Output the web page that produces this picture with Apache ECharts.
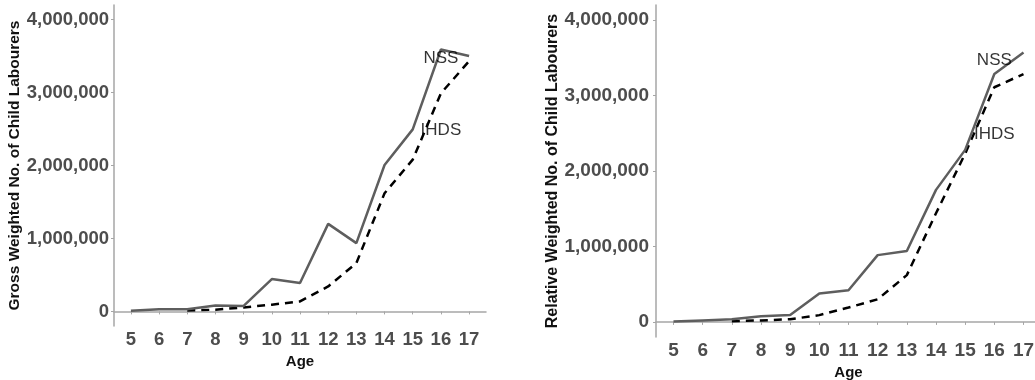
<!DOCTYPE html>
<html>
<head>
<meta charset="utf-8">
<script src="https://cdn.jsdelivr.net/npm/echarts@6/dist/echarts.min.js"></script>
<style>
  html, body { margin: 0; padding: 0; background: #fff; }
  #chart { width: 1035px; height: 380px; }
</style>
</head>
<body>
<div id="chart"></div>
<script>
// Ages on the x axis
const ages = [5, 6, 7, 8, 9, 10, 11, 12, 13, 14, 15, 16, 17];
const idhsAges = [7, 8, 9, 10, 11, 12, 13, 14, 15, 16, 17];

// Gross weighted number of child labourers
const grossNSS = [8000, 28000, 30000, 80000, 75000, 443000, 389000, 1200000, 936000, 2007000, 2495000, 3590000, 3500000];
const grossIHDS = [14000, 23000, 55000, 92000, 137000, 342000, 662000, 1620000, 2080000, 2990000, 3430000];

// Relative weighted number of child labourers
const relNSS = [5000, 20000, 35000, 75000, 90000, 377000, 420000, 885000, 940000, 1750000, 2280000, 3285000, 3570000];
const relIHDS = [10000, 20000, 35000, 90000, 190000, 300000, 620000, 1440000, 2230000, 3110000, 3285000];

// Y axis ticks and the direct series labels
const yTicks = [0, 1000000, 2000000, 3000000, 4000000];
const seriesNames = ['NSS', 'IHDS'];
const labelAge = 16;
const labelValues = [3470000, 2480000];

const zip = (xs, ys) => xs.map((x, i) => [x, ys[i]]);
const fmt = v => v.toLocaleString('en-US');

const chart = echarts.init(document.getElementById('chart'), null, { renderer: 'canvas' });

const tickColor = '#4d4d4d';
const axisGray = '#a6a6a6';

function xAxis(gridIndex, labelSize, nameGap) {
  return {
    type: 'value', gridIndex, min: 4.4, max: 17.6,
    name: 'Age', nameLocation: 'middle', nameGap,
    nameTextStyle: { fontFamily: 'Liberation Sans', fontWeight: 'bold', fontSize: 15, color: '#111' },
    axisLine: { show: true, lineStyle: { color: axisGray, width: 1.5 } },
    axisTick: { show: true, length: 3, lineStyle: { color: axisGray }, customValues: ages },
    axisLabel: { customValues: ages, margin: 4, fontFamily: 'Liberation Sans', fontWeight: 'bold', fontSize: labelSize, color: tickColor },
    splitLine: { show: false }
  };
}

function yAxis(gridIndex, title, labelSize, titleSize, nameGap, margin) {
  return {
    type: 'value', gridIndex, min: -200000, max: 4200000,
    name: title, nameLocation: 'middle', nameGap, nameRotate: 90,
    nameTextStyle: { fontFamily: 'Liberation Sans', fontWeight: 'bold', fontSize: titleSize, color: '#111' },
    axisLine: { show: true, lineStyle: { color: axisGray, width: 1.5 } },
    axisTick: { show: true, length: 3, lineStyle: { color: axisGray }, customValues: yTicks },
    axisLabel: { customValues: yTicks, margin, formatter: fmt, fontFamily: 'Liberation Sans', fontWeight: 'bold', fontSize: labelSize, color: tickColor },
    splitLine: { show: false }
  };
}

function solid(i, data) {
  return { type: 'line', xAxisIndex: i, yAxisIndex: i, data, symbol: 'none', silent: true,
    lineStyle: { color: '#5e5e5e', width: 2.5 }, z: 3 };
}
function dashed(i, data) {
  return { type: 'line', xAxisIndex: i, yAxisIndex: i, data, symbol: 'none', silent: true,
    lineStyle: { color: '#000', width: 2.5, type: [8, 6] }, z: 2 };
}
// Direct series labels placed next to the curves at age 16
function tags(i) {
  return { type: 'scatter', xAxisIndex: i, yAxisIndex: i, symbolSize: 0, silent: true, z: 5,
    itemStyle: { color: '#000' },
    data: seriesNames.map((n, k) => ({ name: n, value: [labelAge, labelValues[k]] })),
    label: { show: true, position: 'inside', formatter: p => p.name,
      textBorderWidth: 0, textBorderColor: 'transparent',
      fontFamily: 'Liberation Sans', fontSize: 17, color: '#000' } };
}

chart.setOption({
  animation: false,
  backgroundColor: '#fff',
  grid: [
    { left: 114, top: 5, width: 372, height: 321, outerBoundsMode: 'none' },
    { left: 656, top: 5, width: 385, height: 332, outerBoundsMode: 'none' }
  ],
  xAxis: [xAxis(0, 18.5, 20), xAxis(1, 19, 21)],
  yAxis: [
    yAxis(0, 'Gross Weighted No. of Child Labourers', 18.5, 15.5, 90, 5),
    yAxis(1, 'Relative Weighted No. of Child Labourers', 19, 16, 95, 7)
  ],
  series: [
    dashed(0, zip(idhsAges, grossIHDS)),
    solid(0, zip(ages, grossNSS)),
    tags(0),
    dashed(1, zip(idhsAges, relIHDS)),
    solid(1, zip(ages, relNSS)),
    tags(1)
  ]
});
</script>
</body>
</html>
